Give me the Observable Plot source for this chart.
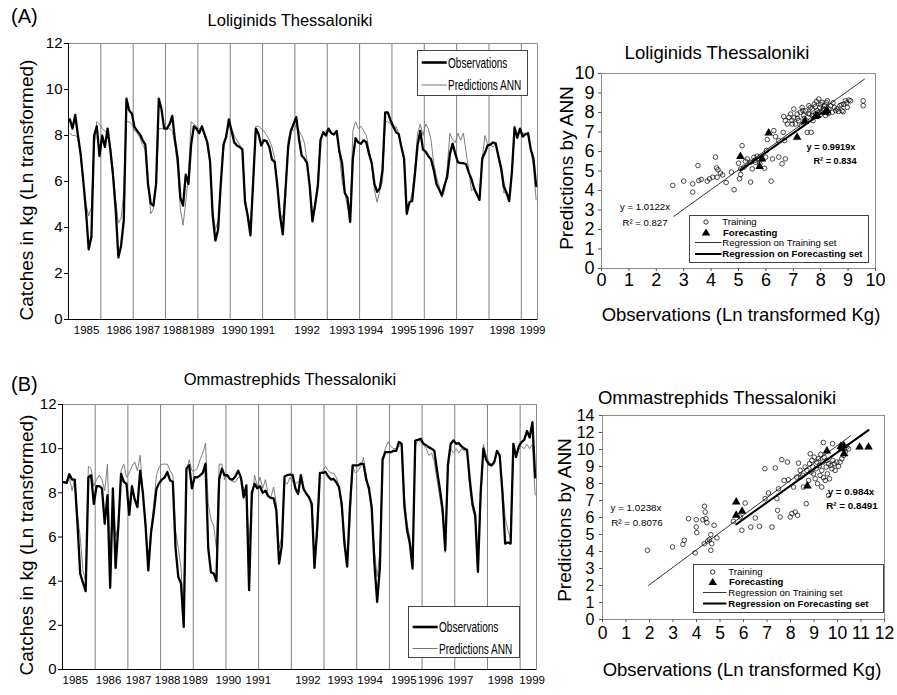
<!DOCTYPE html>
<html><head><meta charset="utf-8">
<script src="https://cdn.jsdelivr.net/npm/d3@7"></script>
<script src="https://cdn.jsdelivr.net/npm/@observablehq/plot@0.6"></script>
<style>
body{margin:0;background:#fff;}
#root{position:relative;width:897px;height:695px;font-family:"Liberation Sans",Arial,Helvetica,sans-serif;color:#000;overflow:hidden;background:#fff;}
.abs{position:absolute;white-space:nowrap;line-height:1;}
.panel{position:absolute;}
.panel svg{max-width:none !important;}
</style></head><body><div id="root"></div>
<script>
// ---------------- DATA ----------------
const yearLabels = ["1985","1986","1987","1988","1989","1990","1991","1992","1993","1994","1995","1996","1997","1998","1999"];
const lolYearPos = [6.7,18.8,29.3,39.7,49.4,61.6,71.9,88.5,101.5,112,124.3,134.5,145.7,160.9,172.2];
const ommYearPos = [4.7,16.9,27.9,38.6,48.7,60.9,71.9,90.1,102.0,112.9,125.3,135.1,146.1,160.8,172.4];
const gridMonths = [12,24,36,48,60,72,84,96,108,120,132,144,156,168];
const tsYTicks = [0,2,4,6,8,10,12];

// Loliginids monthly series (Ln kg)
const lolObs = [
8.7,8.3,8.9,8.0,7.2,6.0,4.7,3.05,3.6,8.0,8.4,7.1,
8.0,7.5,8.3,7.4,6.3,4.8,2.7,3.2,4.3,9.6,9.1,8.95,
8.36,8.2,8.05,7.8,7.6,5.9,5.05,4.95,5.9,9.6,9.15,8.3,
8.3,8.5,8.85,7.8,7.0,5.3,4.95,6.3,5.9,7.6,8.4,8.3,
8.1,8.4,8.05,7.7,6.9,4.5,3.43,3.9,5.9,7.6,7.95,8.7,
8.2,7.7,7.57,7.5,7.4,5.1,4.5,3.66,5.97,8.3,8.07,7.57,
7.8,7.75,7.5,6.95,6.85,5.8,4.5,3.7,5.6,7.5,8.2,8.5,
8.8,7.86,7.13,7.0,6.8,5.8,4.27,5.0,5.8,7.8,8.14,8.0,
8.3,8.1,8.05,8.2,7.3,6.8,5.5,5.3,4.24,7.0,7.88,7.7,
7.64,7.8,7.7,7.2,6.8,5.9,5.55,5.7,6.5,9.0,9.0,8.65,
8.4,8.14,8.07,7.5,7.0,4.6,5.1,5.15,6.3,7.57,8.2,7.4,
7.3,7.1,6.97,6.5,5.9,5.65,5.4,5.83,6.2,7.2,7.65,7.2,
6.83,6.8,6.8,6.75,6.4,6.1,5.7,5.45,5.2,7.0,7.25,7.57,
7.6,7.7,7.65,7.1,6.6,5.8,5.5,5.15,6.4,8.36,7.9,8.3,
7.95,8.05,8.1,7.4,7.0,5.8];
const lolPred = [
8.1,8.0,8.0,7.9,7.1,6.0,5.0,4.5,4.9,7.5,8.6,8.5,
8.3,8.2,8.1,7.6,6.5,5.2,4.2,4.4,5.5,8.6,8.6,8.5,
8.2,8.1,7.9,7.6,7.4,6.0,4.6,4.8,6.0,8.3,8.3,8.3,
8.3,8.3,8.2,7.6,6.6,4.8,4.1,5.1,6.3,8.6,8.5,8.4,
8.3,8.3,8.0,7.6,6.8,4.8,3.9,4.3,5.9,7.3,8.1,8.4,
8.3,8.0,7.8,7.6,7.4,5.3,4.6,4.0,6.0,8.4,8.4,8.3,
8.2,8.0,7.8,7.5,7.0,5.8,4.6,4.4,5.8,7.8,8.3,8.2,
8.5,8.2,8.0,7.7,6.9,5.8,4.6,4.8,6.0,7.9,8.1,8.2,
8.3,8.1,8.0,8.1,7.2,6.0,5.5,4.9,4.5,8.2,8.6,8.3,
8.4,8.2,8.0,7.4,6.8,5.6,5.1,5.6,6.0,8.6,8.6,8.5,
8.3,8.4,8.1,7.6,6.9,5.0,5.0,5.5,6.5,8.1,8.5,8.0,
8.5,8.3,7.8,6.8,6.2,5.8,5.3,5.6,6.6,8.1,7.8,7.7,
8.1,7.8,8.1,7.3,6.5,5.6,5.7,5.5,5.3,7.0,8.0,7.6,
7.6,7.5,7.7,7.0,6.4,5.5,5.6,5.3,6.5,8.2,8.0,8.2,
8.1,8.1,8.0,7.4,6.6,5.2];

// Ommastrephids monthly series (Ln kg)
const ommObs = [
8.48,8.45,8.85,8.6,8.6,6.6,4.34,3.93,3.55,8.7,8.8,7.5,
8.3,8.3,8.2,6.6,7.9,3.7,8.2,4.6,6.5,8.86,8.5,8.4,
7.0,8.3,7.7,7.35,9.0,8.0,6.5,4.49,6.2,7.1,8.18,8.45,
8.6,8.7,8.94,8.56,8.5,5.5,4.2,3.9,1.93,9.1,9.25,8.2,
8.71,8.7,8.79,8.9,9.32,5.5,4.4,4.35,4.0,8.6,9.09,8.79,
8.8,8.62,8.6,8.75,9.0,8.7,7.8,8.34,3.59,8.0,8.41,8.2,
8.3,8.0,8.1,7.85,7.77,7.75,7.2,4.8,5.6,8.74,8.8,8.83,
8.8,8.2,7.95,8.8,8.18,7.96,7.8,7.5,4.6,6.4,8.9,8.9,
8.95,8.75,8.6,8.63,8.48,8.26,7.5,5.7,4.66,7.35,9.24,9.24,
9.24,9.32,9.3,8.6,8.2,7.35,4.8,3.06,4.6,9.5,9.84,9.84,
9.84,9.9,9.9,10.3,10.22,7.4,6.3,5.7,4.57,10.37,10.4,10.45,
10.22,10.15,10.06,10.0,9.9,9.0,8.2,7.3,5.4,9.3,10.22,10.37,
10.22,10.25,10.1,10.0,9.95,8.6,7.5,7.0,4.42,8.0,10.0,9.5,
9.3,9.24,9.4,9.9,9.69,8.0,5.7,5.75,5.7,10.22,9.62,10.1,
10.3,10.4,10.8,10.5,11.2,8.7];
const ommPred = [
8.5,8.4,8.7,8.1,8.6,7.0,6.0,4.5,4.0,9.2,9.1,8.3,
8.6,8.8,8.6,8.1,9.3,5.0,8.0,6.0,6.5,9.0,9.3,8.7,
8.9,9.2,9.4,9.0,9.7,8.0,6.5,5.0,6.3,7.5,8.8,9.2,
9.3,9.3,9.3,9.0,8.8,6.3,5.5,4.6,2.3,9.0,9.5,9.0,
9.0,9.1,9.5,9.8,10.25,7.5,6.8,6.5,5.5,9.3,9.3,8.6,
8.8,8.6,8.5,8.5,8.7,8.7,8.2,7.8,5.8,7.5,8.8,8.3,
8.7,8.2,8.6,7.9,7.8,8.26,7.5,5.5,6.0,8.5,8.4,8.7,
8.5,8.4,8.5,8.6,8.1,8.0,7.8,7.3,4.9,6.0,8.8,9.0,
9.2,9.0,8.9,8.9,8.7,8.3,7.2,6.0,4.8,6.5,9.2,8.9,
9.0,9.2,9.6,8.8,8.0,7.2,5.4,4.2,5.3,9.6,10.0,10.3,
10.1,10.0,10.0,10.1,10.2,7.8,6.6,6.0,5.0,10.1,10.4,10.3,
10.2,10.0,9.7,9.8,9.4,8.6,7.8,7.0,5.3,9.0,10.0,9.8,
10.0,9.8,10.0,9.9,9.9,8.2,7.3,6.8,4.8,7.5,10.2,9.7,
9.4,9.3,9.3,9.9,9.6,8.3,6.9,6.3,5.9,9.9,9.8,10.0,
10.1,10.0,10.2,10.0,10.2,7.9];

// Loliginids scatter
const lolTrainObs = [2.6,3.0,3.33,3.33,3.52,3.55,3.64,3.86,3.94,4.06,4.16,4.2,4.22,4.25,4.34,4.42,4.55,4.74,4.84,5.0,5.04,5.08,5.08,5.13,5.2,5.32,5.44,5.44,5.5,5.56,5.62,5.68,5.78,5.86,5.95,5.99,6.02,6.05,6.19,6.24,6.35,6.47,6.59,6.63,6.65,6.71,6.71,6.68,6.78,6.84,6.9,6.96,7.02,7.02,7.08,7.14,7.2,7.26,7.29,7.32,7.38,7.45,7.48,7.51,7.57,7.6,7.65,7.69,7.72,7.77,7.81,7.85,7.87,7.93,7.97,7.99,8.05,8.09,8.14,8.18,8.24,8.3,8.36,8.42,8.5,8.6,8.7,8.78,8.84,8.9,8.97,9.03,9.09,8.82,9.55,9.55,6.29,6.47,7.4,7.55,7.7,7.9,8.0,8.1,8.2,8.28,8.45,8.55,8.65,8.75,8.95,7.35,7.15,6.95,7.62,7.8,5.25,5.6];
const lolTrainPred = [4.26,4.48,4.34,3.92,5.28,4.51,4.57,4.48,4.6,4.68,5.71,5.16,4.68,5.06,4.89,4.8,4.41,4.94,4.04,5.4,4.6,4.82,5.11,6.3,5.2,5.62,4.43,5.45,5.11,5.7,5.45,5.76,5.37,5.62,5.14,5.71,6.05,6.61,4.48,5.62,6.76,5.71,5.37,6.98,7.79,5.62,7.58,6.56,7.41,7.75,7.92,7.41,8.18,7.72,7.41,7.92,7.58,8.01,7.33,8.26,7.84,8.09,7.58,6.98,8.35,7.92,6.98,8.18,7.58,8.43,7.92,8.57,8.09,8.69,8.26,7.89,8.52,8.09,8.35,7.84,8.6,8.18,8.35,8.01,8.26,8.18,8.35,8.09,8.43,8.6,8.26,8.64,8.6,8.04,8.6,8.35,7.07,6.56,7.7,7.95,7.85,8.0,8.4,8.2,8.5,7.95,8.5,8.1,8.05,8.4,8.5,8.1,7.7,7.6,8.25,8.3,5.5,5.55];
const lolForeObs = [5.07,5.77,5.86,6.1,7.14,7.42,7.81,7.87,8.18,8.24];
const lolForePred = [5.74,5.23,5.62,6.95,6.73,7.55,7.79,7.84,8.01,8.09];
// regression: [slope, xStart, xEnd]
const lolTrainFit = [1.0122, 2.64, 9.6];
const lolForeFit = [0.9919, 5.07, 8.24];
const lolXTicks = [0,1,2,3,4,5,6,7,8,9,10];
const lolYTicks = [0,1,2,3,4,5,6,7,8,9,10];

// Ommastrephids scatter
const ommTrainObs = [1.91,2.98,3.42,3.48,3.66,3.94,3.99,3.99,4.01,4.27,4.33,4.34,4.37,4.4,4.44,4.48,4.55,4.61,4.61,4.65,4.75,4.87,5.57,5.86,5.93,6.07,6.31,6.5,6.68,6.91,6.92,7.06,7.21,7.35,7.42,7.45,7.49,7.56,7.63,7.73,7.87,7.91,7.99,8.06,8.13,8.2,8.27,8.3,8.34,8.41,8.44,8.52,8.55,8.62,8.67,8.7,8.77,8.81,8.84,8.87,8.91,8.95,8.98,9.01,9.05,9.09,9.12,9.15,9.19,9.23,9.26,9.29,9.33,9.38,9.4,9.43,9.48,9.52,9.55,9.57,9.62,9.66,9.72,9.76,9.8,9.86,9.9,9.97,10.04,10.11,10.18,10.26,10.33,10.4,10.47,9.62,9.33,9.4,9.79];
const ommTrainPred = [4.07,4.27,4.42,4.66,5.93,3.92,5.87,5.44,5.11,5.87,4.46,6.66,6.32,5.93,5.7,4.62,4.7,4.99,4.07,4.46,5.54,4.8,5.78,6.03,5.25,6.85,5.44,5.97,5.48,8.87,7.11,7.44,5.44,8.91,7.11,6.42,7.69,6.03,9.4,8.18,9.26,8.22,6.03,6.23,7.79,6.32,8.38,6.13,9.2,8.77,8.38,8.48,7.79,8.97,6.81,8.77,8.18,9.16,9.75,8.67,9.36,8.97,8.57,9.55,8.28,8.87,9.26,7.99,9.46,9.06,8.48,9.71,8.77,9.26,8.34,9.55,8.18,8.97,9.36,8.57,9.16,8.28,9.06,8.87,9.36,9.16,8.77,9.26,9.01,9.26,9.46,9.65,9.85,10.14,10.04,7.3,7.79,10.41,10.34];
const ommForeObs = [5.69,5.69,5.94,8.72,9.55,10.14,10.18,10.28,10.26,10.94,11.32];
const ommForePred = [6.91,6.13,6.36,7.85,9.91,10.18,10.04,9.75,10.24,10.14,10.14];
const ommTrainFit = [1.0238, 1.96, 10.55];
const ommForeFit = [0.984, 5.69, 11.32];
const ommXTicks = [0,1,2,3,4,5,6,7,8,9,10,11,12];
const ommYTicks = [0,1,2,3,4,5,6,7,8,9,10,11,12];
const ommYTickLabels = ["0","1","2","3","4","5","6","7","8","9","10","12","14"];

// ---------------- DRAWING ----------------
const FONT = '"Liberation Sans", Arial, Helvetica, sans-serif';
const root = document.getElementById("root");

function addPlot(svg, left, top) {
  const d = document.createElement("div");
  d.className = "panel";
  d.style.left = left + "px"; d.style.top = top + "px";
  d.appendChild(svg);
  root.appendChild(d);
}

function txt(s, x, y, o = {}) {
  const {size = 12, anchor = "middle", bold = false, rotate = false, scaleX = 1} = o;
  const d = document.createElement("div");
  d.className = "abs";
  d.textContent = s;
  d.style.left = x + "px"; d.style.top = y + "px";
  d.style.fontSize = size + "px";
  d.style.fontWeight = bold ? "bold" : "normal";
  const tx = anchor === "middle" ? "-50%" : anchor === "end" ? "-100%" : "0";
  let t = `translate(${tx},-50%)`;
  if (rotate) t += " rotate(-90deg)";
  if (scaleX !== 1) t += ` scaleX(${scaleX})`;
  d.style.transform = t;
  d.style.transformOrigin = anchor === "start" ? "left center" : "center center";
  root.appendChild(d);
}

function tsPlot(obs, pred, yearPos, g) {
  const obsData = obs.map((v, i) => ({t: i + 0.5, v}));
  const predData = pred.map((v, i) => ({t: i + 0.5, v}));
  const labelOf = new Map(yearPos.map((p, i) => [p, yearLabels[i]]));
  return Plot.plot({
    width: g.w, height: g.h,
    marginLeft: g.ml, marginRight: g.mr, marginTop: g.mt, marginBottom: g.mb,
    style: {fontFamily: FONT, background: "transparent", overflow: "visible", color: "#000"},
    x: {domain: [0, 174], label: null},
    y: {domain: [0, 12], label: null},
    marks: [
      Plot.ruleX(gridMonths, {stroke: "#808080", strokeWidth: 1}),
      Plot.frame({stroke: "#8c8c8c"}),
      Plot.line(predData, {x: "t", y: "v", stroke: "#707070", strokeWidth: 0.9}),
      Plot.line(obsData, {x: "t", y: "v", stroke: "#000", strokeWidth: 2.3, strokeLinejoin: "round"}),
      Plot.ruleX([0], {stroke: "#000"}),
      Plot.ruleY([0], {stroke: "#000"}),
      Plot.axisY({ticks: tsYTicks, tickSize: 4, tickPadding: 2, fontSize: 15, label: null}),
      Plot.axisX({ticks: yearPos, tickFormat: d => labelOf.get(d), tickSize: 0, tickPadding: 6, fontSize: 11.5, label: null})
    ]
  });
}

function scPlot(s, g) {
  const tr = s.trX.map((x, i) => ({x, y: s.trY[i]}));
  const fc = s.fcX.map((x, i) => ({x, y: s.fcY[i]}));
  const fitLine = f => [{x: f[1], y: f[0] * f[1]}, {x: f[2], y: f[0] * f[2]}];
  return Plot.plot({
    width: g.w, height: g.h,
    marginLeft: g.ml, marginRight: g.mr, marginTop: g.mt, marginBottom: g.mb,
    style: {fontFamily: FONT, background: "transparent", overflow: "visible", color: "#000"},
    x: {domain: s.xDom, label: null},
    y: {domain: s.yDom, label: null},
    marks: [
      Plot.frame({stroke: "#8c8c8c"}),
      Plot.dot(tr, {x: "x", y: "y", r: 2.3, stroke: "#000", strokeWidth: 0.7, fill: "none"}),
      Plot.line(fitLine(s.trainFit), {x: "x", y: "y", stroke: "#000", strokeWidth: 0.8}),
      Plot.line(fitLine(s.foreFit), {x: "x", y: "y", stroke: "#000", strokeWidth: 2}),
      Plot.dot(fc, {x: "x", y: "y", r: 3.2, symbol: "triangle", fill: "#000", stroke: "none"}),
      Plot.axisX({ticks: s.xTicks, tickSize: 3, tickPadding: s.xPad, fontSize: s.fsx, label: null, stroke: "#555"}),
      Plot.axisY({ticks: s.yTicks, tickSize: 3, tickPadding: s.yPad, fontSize: s.fsy, label: null, stroke: "#555",
                  tickFormat: s.yFmt})
    ]
  });
}

addPlot(tsPlot(lolObs, lolPred, lolYearPos, {w: 560, h: 345, ml: 68, mr: 23, mt: 43, mb: 26}), 0, 0);
addPlot(tsPlot(ommObs, ommPred, ommYearPos, {w: 560, h: 345, ml: 62, mr: 24, mt: 54, mb: 26}), 0, 350);

addPlot(scPlot({trX: lolTrainObs, trY: lolTrainPred, fcX: lolForeObs, fcY: lolForePred,
  trainFit: lolTrainFit, foreFit: lolForeFit, xDom: [0, 10], yDom: [0, 10],
  xTicks: lolXTicks, yTicks: lolYTicks, xPad: 2, yPad: 4, fsx: 18, fsy: 18, yFmt: d => String(d)},
  {w: 337, h: 310, ml: 41, mr: 22, mt: 43, mb: 72}), 560, 30);
addPlot(scPlot({trX: ommTrainObs, trY: ommTrainPred, fcX: ommForeObs, fcY: ommForePred,
  trainFit: ommTrainFit, foreFit: ommForeFit, xDom: [0, 12], yDom: [0, 12],
  xTicks: ommXTicks, yTicks: ommYTicks, xPad: 4, yPad: 5, fsx: 17.5, fsy: 16, yFmt: d => ommYTickLabels[d]},
  {w: 337, h: 315, ml: 42, mr: 13, mt: 35, mb: 76}), 560, 380);

// Texts
txt("(A)", 11, 16, {size: 20, anchor: "start"});
txt("(B)", 11, 384, {size: 20, anchor: "start"});
txt("Loliginids Thessaloniki", 290, 20, {size: 16.5});
txt("Ommastrephids Thessaloniki", 290, 379, {size: 16.5});
txt("Catches in kg (Ln transformed)", 26, 190, {size: 19, rotate: true});
txt("Catches in kg (Ln transformed)", 26, 545, {size: 19, rotate: true});
txt("Loliginids Thessaloniki", 717, 53, {size: 18.5});
txt("Ommastrephids Thessaloniki", 717, 398, {size: 18.5});
txt("Predictions by ANN", 566, 168, {size: 19, rotate: true});
txt("Predictions by ANN", 564, 520, {size: 19, rotate: true});
txt("Observations (Ln transformed Kg)", 741, 315, {size: 18.5});
txt("Observations (Ln transformed Kg)", 742, 670, {size: 18.5});

// regression annotations
txt("y = 1.0122x", 645, 207, {size: 9.6});
txt("R² = 0.827", 645, 223, {size: 9.6});
txt("y = 0.9919x", 831, 148, {size: 9.2, bold: true});
txt("R² = 0.834", 835, 162, {size: 9.2, bold: true});
txt("y = 1.0238x", 636, 508, {size: 9.8});
txt("R² = 0.8076", 637, 523, {size: 9.8});
txt("y = 0.984x", 851, 492, {size: 9.8, bold: true});
txt("R² = 0.8491", 852, 506, {size: 9.8, bold: true});

// legends (overlay svg for keys)
const ov = d3.create("svg").attr("width", 897).attr("height", 695)
  .style("position", "absolute").style("left", "0").style("top", "0").style("pointer-events", "none");
function box(x0, y0, x1, y1) {
  ov.append("rect").attr("x", x0 + 0.5).attr("y", y0 + 0.5).attr("width", x1 - x0).attr("height", y1 - y0)
    .attr("fill", "#fff").attr("stroke", "#444").attr("stroke-width", 1);
}
function key(x0, x1, y, w, c) {
  ov.append("line").attr("x1", x0).attr("x2", x1).attr("y1", y).attr("y2", y).attr("stroke", c).attr("stroke-width", w);
}
function circ(x, y) { ov.append("circle").attr("cx", x).attr("cy", y).attr("r", 2.2).attr("fill", "none").attr("stroke", "#000").attr("stroke-width", 0.8); }
function tri(x, y) { ov.append("path").attr("d", `M${x},${y - 4}L${x + 4.3},${y + 3}L${x - 4.3},${y + 3}Z`).attr("fill", "#000"); }

box(417, 50, 527, 95);
key(421.7, 446.7, 62.5, 2.6, "#000");
key(421.7, 446.7, 85, 1, "#777");
box(408, 606, 519, 657);
key(412.7, 437.7, 627, 2.6, "#000");
key(412.7, 437.7, 648.5, 1, "#777");
box(689, 215, 868, 262);
circ(706, 222); tri(706, 232.5); key(695, 721.5, 242.5, 0.8, "#000"); key(695, 721.5, 254, 2, "#000");
box(693, 564, 883, 612);
circ(712.7, 572); tri(712.7, 582); key(703, 726.5, 592.5, 0.8, "#000"); key(703, 726.5, 603.5, 2, "#000");
root.appendChild(ov.node());

txt("Observations", 448, 62.5, {size: 14, anchor: "start", scaleX: 0.72});
txt("Predictions ANN", 448, 85, {size: 14, anchor: "start", scaleX: 0.72});
txt("Observations", 438.5, 627, {size: 14, anchor: "start", scaleX: 0.72});
txt("Predictions ANN", 438.5, 648.5, {size: 14, anchor: "start", scaleX: 0.72});

txt("Training", 722.3, 222, {size: 9.6, anchor: "start"});
txt("Forecasting", 723, 232.5, {size: 9.6, anchor: "start", bold: true});
txt("Regression on Training set", 722.3, 242.5, {size: 9.6, anchor: "start"});
txt("Regression on Forecasting set", 722.3, 254, {size: 9.6, anchor: "start", bold: true});
txt("Training", 728.3, 572, {size: 9.6, anchor: "start"});
txt("Forecasting", 729, 582, {size: 9.6, anchor: "start", bold: true});
txt("Regression on Training set", 728.3, 592.5, {size: 9.6, anchor: "start"});
txt("Regression on Forecasting set", 728.3, 603.5, {size: 9.6, anchor: "start", bold: true});
</script></body></html>
